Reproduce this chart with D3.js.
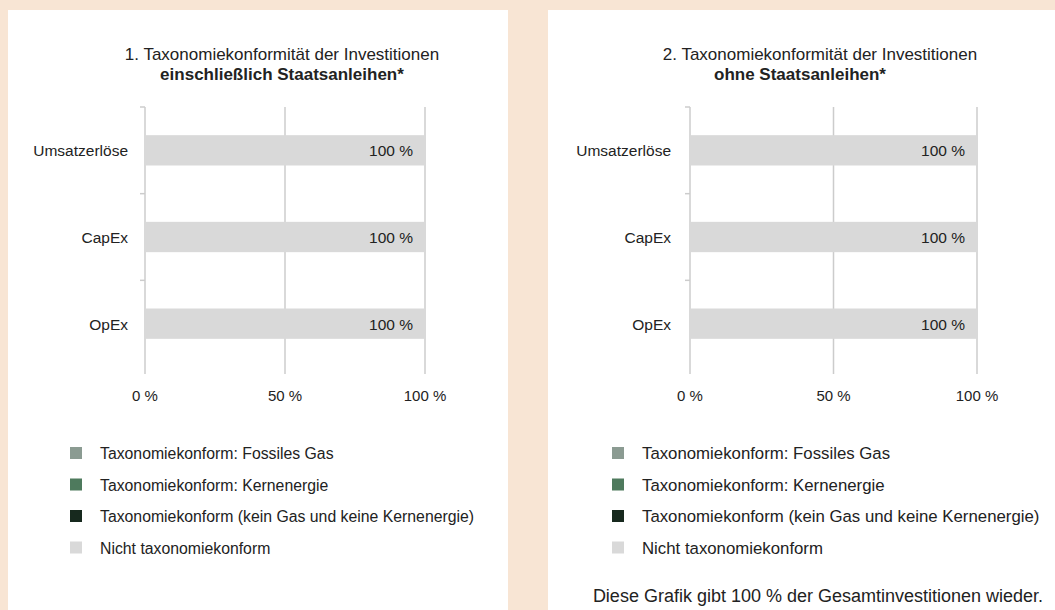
<!DOCTYPE html>
<meta charset="utf-8">
<style>
body{
    margin: 0;
    background: #f8e5d4;
}
svg text { fill: #222; font-family: Arial, "Liberation Sans", Helvetica, sans-serif; }
</style>
<body>

<div id="chart"></div>

<script src="https://d3js.org/d3.v7.min.js"></script>
<script>

var categories = ["Umsatzerlöse", "CapEx", "OpEx"];
var seriesNames = [
  "Taxonomiekonform: Fossiles Gas",
  "Taxonomiekonform: Kernenergie",
  "Taxonomiekonform (kein Gas und keine Kernenergie)",
  "Nicht taxonomiekonform"
];
var seriesColors = ["#8b9b92", "#4e7a5d", "#17291e", "#d9d9d9"];

// chart 1: incl. sovereign bonds, chart 2: without
var gas1 = [0, 0, 0], nuclear1 = [0, 0, 0], aligned1 = [0, 0, 0], notAligned1 = [100, 100, 100];
var gas2 = [0, 0, 0], nuclear2 = [0, 0, 0], aligned2 = [0, 0, 0], notAligned2 = [100, 100, 100];

var xTicks = [0, 50, 100];
var footnote = "Diese Grafik gibt 100 % der Gesamtinvestitionen wieder.";

var width = 1055, height = 610;

var svg = d3.select("#chart")
  .append("svg")
    .attr("width", width)
    .attr("height", height);

function makeRows(g, n, a, na) {
  return categories.map(function(c, i) {
    return { cat: c, s0: g[i], s1: n[i], s2: a[i], s3: na[i] };
  });
}

var charts = [
  { panel: [8, 10, 500, 600], x0: 145, x1: 425, labelX: 128,
    title1: "1. Taxonomiekonformität der Investitionen", t1x: 282,
    title2: "einschließlich Staatsanleihen*", t2x: 282,
    legendX: 70, legendSize: 15.8, rows: makeRows(gas1, nuclear1, aligned1, notAligned1), note: false },
  { panel: [548, 10, 507, 600], x0: 690, x1: 977, labelX: 671,
    title1: "2. Taxonomiekonformität der Investitionen", t1x: 820,
    title2: "ohne Staatsanleihen*", t2x: 800,
    legendX: 612, legendSize: 16.8, rows: makeRows(gas2, nuclear2, aligned2, notAligned2), note: true }
];

var stack = d3.stack().keys(["s0", "s1", "s2", "s3"]);

charts.forEach(function(c) {
  var g = svg.append("g");

  g.append("rect")
    .attr("x", c.panel[0]).attr("y", c.panel[1])
    .attr("width", c.panel[2]).attr("height", c.panel[3])
    .attr("fill", "#fff");

  g.append("text")
    .attr("x", c.t1x).attr("y", 60)
    .attr("text-anchor", "middle")
    .style("font-size", "17px")
    .text(c.title1);
  g.append("text")
    .attr("x", c.t2x).attr("y", 80)
    .attr("text-anchor", "middle")
    .style("font-size", "17px")
    .style("font-weight", "bold")
    .text(c.title2);

  var x = d3.scaleLinear().domain([0, 100]).range([c.x0, c.x1]);
  var y = d3.scaleBand().domain(categories).range([107, 367]).paddingInner(0.65).paddingOuter(0.325);

  // gridlines
  g.selectAll(".grid")
    .data(xTicks)
    .enter()
    .append("line")
      .attr("x1", function(d) { return x(d); })
      .attr("x2", function(d) { return x(d); })
      .attr("y1", 107)
      .attr("y2", 374)
      .attr("stroke", "#cccccc")
      .attr("stroke-width", 1.5);

  // small ticks on the category axis at band borders
  var borders = [107].concat(categories.slice(1).map(function(d) { return y(d) - y.step() * y.paddingInner() / 2; }));
  g.selectAll(".ytick")
    .data(borders)
    .enter()
    .append("line")
      .attr("x1", x(0) - 5).attr("x2", x(0))
      .attr("y1", function(d) { return d; })
      .attr("y2", function(d) { return d; })
      .attr("stroke", "#cccccc")
      .attr("stroke-width", 1.5);

  var layers = stack(c.rows);
  g.selectAll(".layer")
    .data(layers)
    .enter()
    .append("g")
      .attr("fill", function(d, i) { return seriesColors[i]; })
    .selectAll("rect")
    .data(function(d) { return d; })
    .enter()
    .append("rect")
      .attr("x", function(d) { return x(d[0]); })
      .attr("y", function(d) { return y(d.data.cat); })
      .attr("width", function(d) { return x(d[1]) - x(d[0]); })
      .attr("height", y.bandwidth());

  // value labels
  g.selectAll(".val")
    .data(c.rows)
    .enter()
    .append("text")
      .attr("x", function(d) { return x(d.s3) - 12; })
      .attr("y", function(d) { return y(d.cat) + y.bandwidth() / 2 + 6; })
      .attr("text-anchor", "end")
      .style("font-size", "15.5px")
      .text(function(d) { return d.s3 + " %"; });

  // category labels
  g.selectAll(".cat")
    .data(categories)
    .enter()
    .append("text")
      .attr("x", c.labelX)
      .attr("y", function(d) { return y(d) + y.bandwidth() / 2 + 6; })
      .attr("text-anchor", "end")
      .style("font-size", "15.5px")
      .text(function(d) { return d; });

  // x tick labels
  g.selectAll(".xt")
    .data(xTicks)
    .enter()
    .append("text")
      .attr("x", function(d) { return x(d); })
      .attr("y", 401)
      .attr("text-anchor", "middle")
      .style("font-size", "15px")
      .text(function(d) { return d + " %"; });

  // legend
  var leg = g.selectAll(".leg")
    .data(seriesNames)
    .enter()
    .append("g")
      .attr("transform", function(d, i) { return "translate(" + c.legendX + "," + (453 + i * 31.5) + ")"; });
  leg.append("rect")
    .attr("x", 0).attr("y", -6)
    .attr("width", 12).attr("height", 12)
    .attr("fill", function(d, i) { return seriesColors[i]; });
  leg.append("text")
    .attr("x", 30).attr("y", 6)
    .style("font-size", c.legendSize + "px")
    .text(function(d) { return d; });

  if (c.note) {
    g.append("text")
      .attr("x", 818).attr("y", 602)
      .attr("text-anchor", "middle")
      .style("font-size", "18px")
      .text(footnote);
  }
});

</script>
</body>
